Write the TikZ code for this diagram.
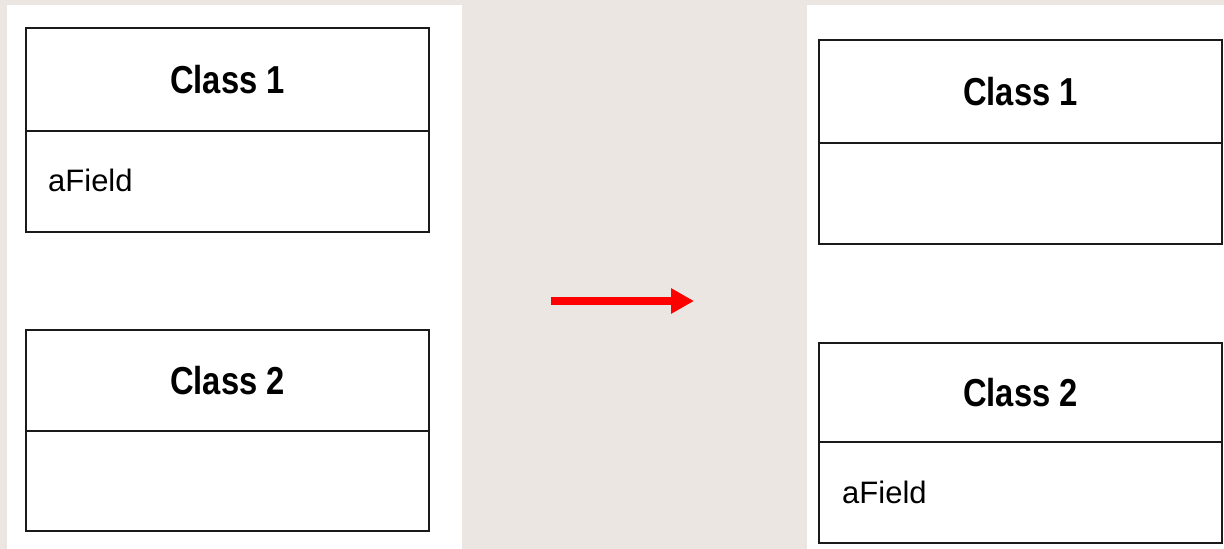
\documentclass[tikz,border=0pt]{standalone}
\usepackage{fontspec}
\setmainfont{Liberation Sans}
\usetikzlibrary{arrows.meta}
\definecolor{bgbeige}{HTML}{EBE6E2}
\definecolor{linegray}{HTML}{1A1A1A}
\tikzset{
  panel/.style={fill=white, draw=none},
  umlpart/.style={draw=linegray, line width=2pt, fill=white, minimum width=403pt, inner sep=0pt, outer sep=0pt},
  classtitle/.style={font=\fontsize{39pt}{39pt}\selectfont\bfseries, xscale=0.84},
  fieldtext/.style={font=\fontsize{31pt}{31pt}\selectfont, anchor=base west, inner sep=0pt},
  movearrow/.style={draw=red, line width=8pt, -{Triangle[length=23pt,width=24pt]}}
}
\begin{document}
\begin{tikzpicture}[x=1pt,y=-1pt]
\useasboundingbox (0,0) rectangle (1224,549);
\fill[bgbeige] (0,0) rectangle (1224,549);
\fill[white] (7,5) rectangle (462,549);
\fill[white] (807,5) rectangle (1224,549);
% left side
\node[umlpart, minimum height=103pt, anchor=north west] (l1h) at (26,28) {};
\node[classtitle] (l1t) at (l1h.center) {Class 1};
\node[umlpart, minimum height=101pt, anchor=north west] (l1b) at (l1h.south west) {};
\node[fieldtext] (l1f) at (48,191) {aField};
\node[umlpart, minimum height=101pt, anchor=north west] (l2h) at (26,330) {};
\node[classtitle] (l2t) at (l2h.center) {Class 2};
\node[umlpart, minimum height=100pt, anchor=north west] (l2b) at (l2h.south west) {};
% right side
\node[umlpart, minimum height=103pt, anchor=north west] (r1h) at (819,40) {};
\node[classtitle] (r1t) at (r1h.center) {Class 1};
\node[umlpart, minimum height=101pt, anchor=north west] (r1b) at (r1h.south west) {};
\node[umlpart, minimum height=99pt, anchor=north west] (r2h) at (819,343) {};
\node[classtitle] (r2t) at (r2h.center) {Class 2};
\node[umlpart, minimum height=101pt, anchor=north west] (r2b) at (r2h.south west) {};
\node[fieldtext] (r2f) at (842,503) {aField};
% arrow
\coordinate (as) at (551,301);
\coordinate (ae) at (694,301);
\draw[movearrow] (as) -- (ae);
\end{tikzpicture}
\end{document}
